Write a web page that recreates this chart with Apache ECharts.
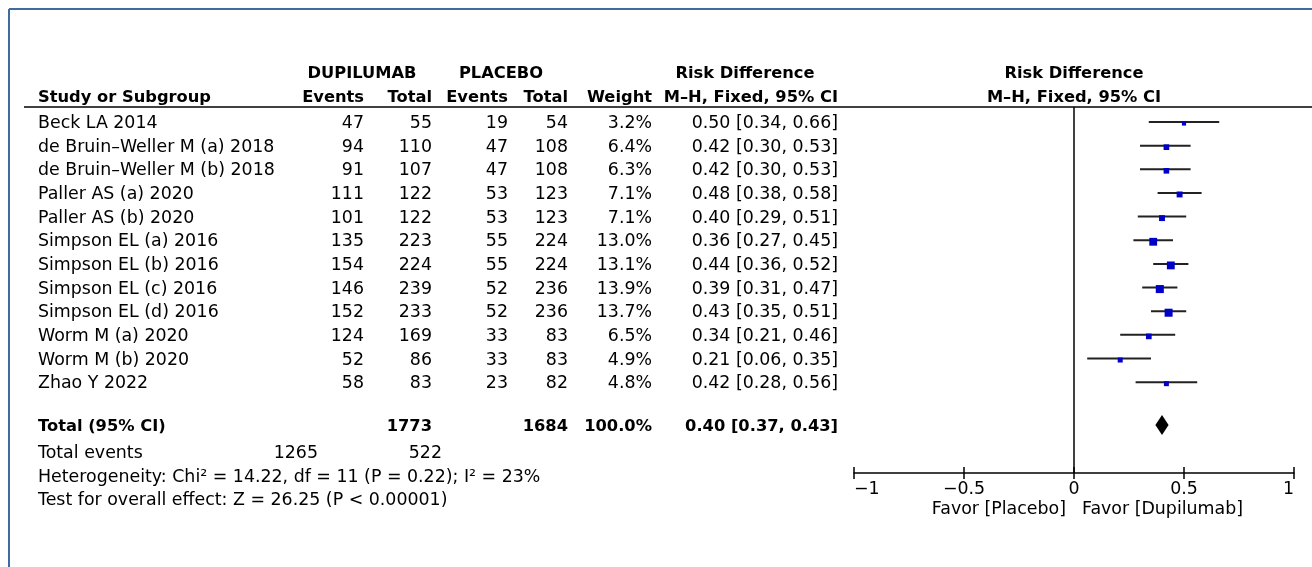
<!DOCTYPE html>
<html>
<head>
<meta charset="utf-8">
<script src="https://cdn.jsdelivr.net/npm/echarts@6/dist/echarts.min.js"></script>
<style>
  html, body { margin: 0; padding: 0; background: #fff; }
  #chart { width: 1312px; height: 567px; }
</style>
</head>
<body>
<div id="chart"></div>
<script>
// ---- data ----
const studies = [
  'Beck LA 2014',
  'de Bruin\u2013Weller M (a) 2018',
  'de Bruin\u2013Weller M (b) 2018',
  'Paller AS (a) 2020',
  'Paller AS (b) 2020',
  'Simpson EL (a) 2016',
  'Simpson EL (b) 2016',
  'Simpson EL (c) 2016',
  'Simpson EL (d) 2016',
  'Worm M (a) 2020',
  'Worm M (b) 2020',
  'Zhao Y 2022'
];
const dupEvents = [47, 94, 91, 111, 101, 135, 154, 146, 152, 124, 52, 58];
const dupTotal  = [55, 110, 107, 122, 122, 223, 224, 239, 233, 169, 86, 83];
const plaEvents = [19, 47, 47, 53, 53, 55, 55, 52, 52, 33, 33, 23];
const plaTotal  = [54, 108, 108, 123, 123, 224, 224, 236, 236, 83, 83, 82];
const weights   = [3.2, 6.4, 6.3, 7.1, 7.1, 13.0, 13.1, 13.9, 13.7, 6.5, 4.9, 4.8];
const rd        = [0.50, 0.42, 0.42, 0.48, 0.40, 0.36, 0.44, 0.39, 0.43, 0.34, 0.21, 0.42];
const ciLow     = [0.34, 0.30, 0.30, 0.38, 0.29, 0.27, 0.36, 0.31, 0.35, 0.21, 0.06, 0.28];
const ciHigh    = [0.66, 0.53, 0.53, 0.58, 0.51, 0.45, 0.52, 0.47, 0.51, 0.46, 0.35, 0.56];

const totalDupN = 1773, totalPlaN = 1684, totalWeight = '100.0%';
const totalRd = 0.40, totalLow = 0.37, totalHigh = 0.43;
const totalDupEvents = 1265, totalPlaEvents = 522;
const heterogeneityText = 'Heterogeneity: Chi\u00B2 = 14.22, df = 11 (P = 0.22); I\u00B2 = 23%';
const overallText = 'Test for overall effect: Z = 26.25 (P < 0.00001)';
const xTicks = [-1, -0.5, 0, 0.5, 1];

// ---- layout ----
const TOTAL_ROW = 12.81;
const FONT = '"DejaVu Sans", sans-serif';
const NORMAL = '17.4px ' + FONT;
const BOLD = 'bold 16.3px ' + FONT;
const DY = 1.5;
const COL = { name: 38, dE: 364, dT: 432, pE: 508, pT: 568, w: 652, ci: 838 };

const fmt2 = v => v.toFixed(2);
const ciText = (e, l, h) => fmt2(e) + ' [' + fmt2(l) + ', ' + fmt2(h) + ']';

function txt(x, y, text, align, font) {
  return { type: 'text', style: { x: x, y: y + DY, text: String(text), align: align || 'left',
    verticalAlign: 'middle', font: font || NORMAL, fill: '#000' } };
}

const chart = echarts.init(document.getElementById('chart'), null, { renderer: 'canvas' });

const forestData = studies.map((s, i) => [i, rd[i], ciLow[i], ciHigh[i], weights[i]]);
const tableData = studies.map((s, i) => [i, 0]);

const option = {
  backgroundColor: '#fff',
  animation: false,
  grid: { left: 854, right: 18, top: 107, bottom: 94 },
  xAxis: [
    {
      type: 'value', min: -1, max: 1, interval: 0.5, position: 'bottom',
      axisLine: { show: true, onZero: false, lineStyle: { color: '#000', width: 1.5 } },
      axisTick: { show: true, length: 6, lineStyle: { color: '#000', width: 1.5 } },
      splitLine: { show: false },
      axisLabel: {
        show: true, margin: 8, color: '#000', fontSize: 17.4, fontFamily: FONT,
        alignMinLabel: 'left', alignMaxLabel: 'right',
        formatter: v => String(v).replace('-', '\u2212')
      }
    },
    {
      type: 'value', min: -1, max: 1, interval: 0.5, position: 'bottom',
      axisLine: { show: false, onZero: false },
      axisTick: { show: true, inside: true, length: 6, lineStyle: { color: '#000', width: 1.5 } },
      splitLine: { show: false },
      axisLabel: { show: false }
    }
  ],
  yAxis: {
    type: 'value', min: -0.634, max: 14.84, inverse: true, show: false,
    splitLine: { show: false }
  },
  graphic: [
    // frame
    { type: 'line', shape: { x1: 9, y1: 9, x2: 1312, y2: 9 }, style: { stroke: '#3f6c9c', lineWidth: 2 } },
    { type: 'line', shape: { x1: 9, y1: 9, x2: 9, y2: 567 }, style: { stroke: '#3f6c9c', lineWidth: 2 } },
    // header rule
    { type: 'line', shape: { x1: 24, y1: 107, x2: 1312, y2: 107 }, style: { stroke: '#000', lineWidth: 1.5 } },
    // headers
    txt(362, 72, 'DUPILUMAB', 'center', BOLD),
    txt(501, 72, 'PLACEBO', 'center', BOLD),
    txt(745, 72, 'Risk Difference', 'center', BOLD),
    txt(1074, 72, 'Risk Difference', 'center', BOLD),
    txt(COL.name, 96, 'Study or Subgroup', 'left', BOLD),
    txt(COL.dE, 96, 'Events', 'right', BOLD),
    txt(COL.dT, 96, 'Total', 'right', BOLD),
    txt(COL.pE, 96, 'Events', 'right', BOLD),
    txt(COL.pT, 96, 'Total', 'right', BOLD),
    txt(COL.w, 96, 'Weight', 'right', BOLD),
    txt(COL.ci, 96, 'M\u2013H, Fixed, 95% CI', 'right', BOLD),
    txt(1074, 96, 'M\u2013H, Fixed, 95% CI', 'center', BOLD),
    // footer
    txt(COL.name, 452, 'Total events'),
    txt(318, 452, totalDupEvents, 'right'),
    txt(442, 452, totalPlaEvents, 'right'),
    txt(COL.name, 476, heterogeneityText),
    txt(COL.name, 499, overallText),
    // axis captions
    txt(1066, 508, 'Favor [Placebo]', 'right'),
    txt(1082, 508, 'Favor [Dupilumab]', 'left')
  ],
  series: [
    {
      type: 'custom', name: 'table', clip: false, silent: true,
      data: tableData,
      encode: { x: 1, y: 0 },
      renderItem: function (params, api) {
        const i = api.value(0);
        const y = api.coord([0, i])[1];
        return {
          type: 'group',
          children: [
            txt(COL.name, y, studies[i], 'left'),
            txt(COL.dE, y, dupEvents[i], 'right'),
            txt(COL.dT, y, dupTotal[i], 'right'),
            txt(COL.pE, y, plaEvents[i], 'right'),
            txt(COL.pT, y, plaTotal[i], 'right'),
            txt(COL.w, y, weights[i].toFixed(1) + '%', 'right'),
            txt(COL.ci, y, ciText(rd[i], ciLow[i], ciHigh[i]), 'right')
          ]
        };
      }
    },
    {
      type: 'custom', name: 'studies', clip: false, silent: true,
      data: forestData,
      encode: { x: [1, 2, 3], y: 0 },
      renderItem: function (params, api) {
        const i = api.value(0);
        const pl = api.coord([api.value(2), i]);
        const ph = api.coord([api.value(3), i]);
        const pc = api.coord([api.value(1), i]);
        const s = 2 * Math.sqrt(api.value(4)) + 0.6;
        return {
          type: 'group',
          children: [
            { type: 'line', shape: { x1: pl[0], y1: pl[1], x2: ph[0], y2: ph[1] },
              style: { stroke: '#222', lineWidth: 2 } },
            { type: 'rect', shape: { x: pc[0] - s / 2, y: pc[1] - s / 2 + 1.5, width: s, height: s },
              style: { fill: '#0000c8' } }
          ]
        };
      },
      markLine: {
        silent: true, symbol: 'none', label: { show: false },
        lineStyle: { color: '#000', width: 1.5, type: 'solid' },
        data: [{ xAxis: 0 }]
      }
    },
    {
      type: 'custom', name: 'total', clip: false, silent: true,
      data: [[TOTAL_ROW, totalRd, totalLow, totalHigh]],
      encode: { x: [1, 2, 3], y: 0 },
      renderItem: function (params, api) {
        const r = api.value(0);
        const pc = api.coord([api.value(1), r]);
        const pl = api.coord([api.value(2), r]);
        const ph = api.coord([api.value(3), r]);
        const h = 10;
        const y = pc[1];
        return {
          type: 'group',
          children: [
            { type: 'polygon', shape: { points: [[pl[0], y], [pc[0], y - h], [ph[0], y], [pc[0], y + h]] },
              style: { fill: '#000' } },
            txt(COL.name, y, 'Total (95% CI)', 'left', BOLD),
            txt(COL.dT, y, totalDupN, 'right', BOLD),
            txt(COL.pT, y, totalPlaN, 'right', BOLD),
            txt(COL.w, y, totalWeight, 'right', BOLD),
            txt(COL.ci, y, ciText(totalRd, totalLow, totalHigh), 'right', BOLD)
          ]
        };
      }
    }
  ]
};

chart.setOption(option);
</script>
</body>
</html>
